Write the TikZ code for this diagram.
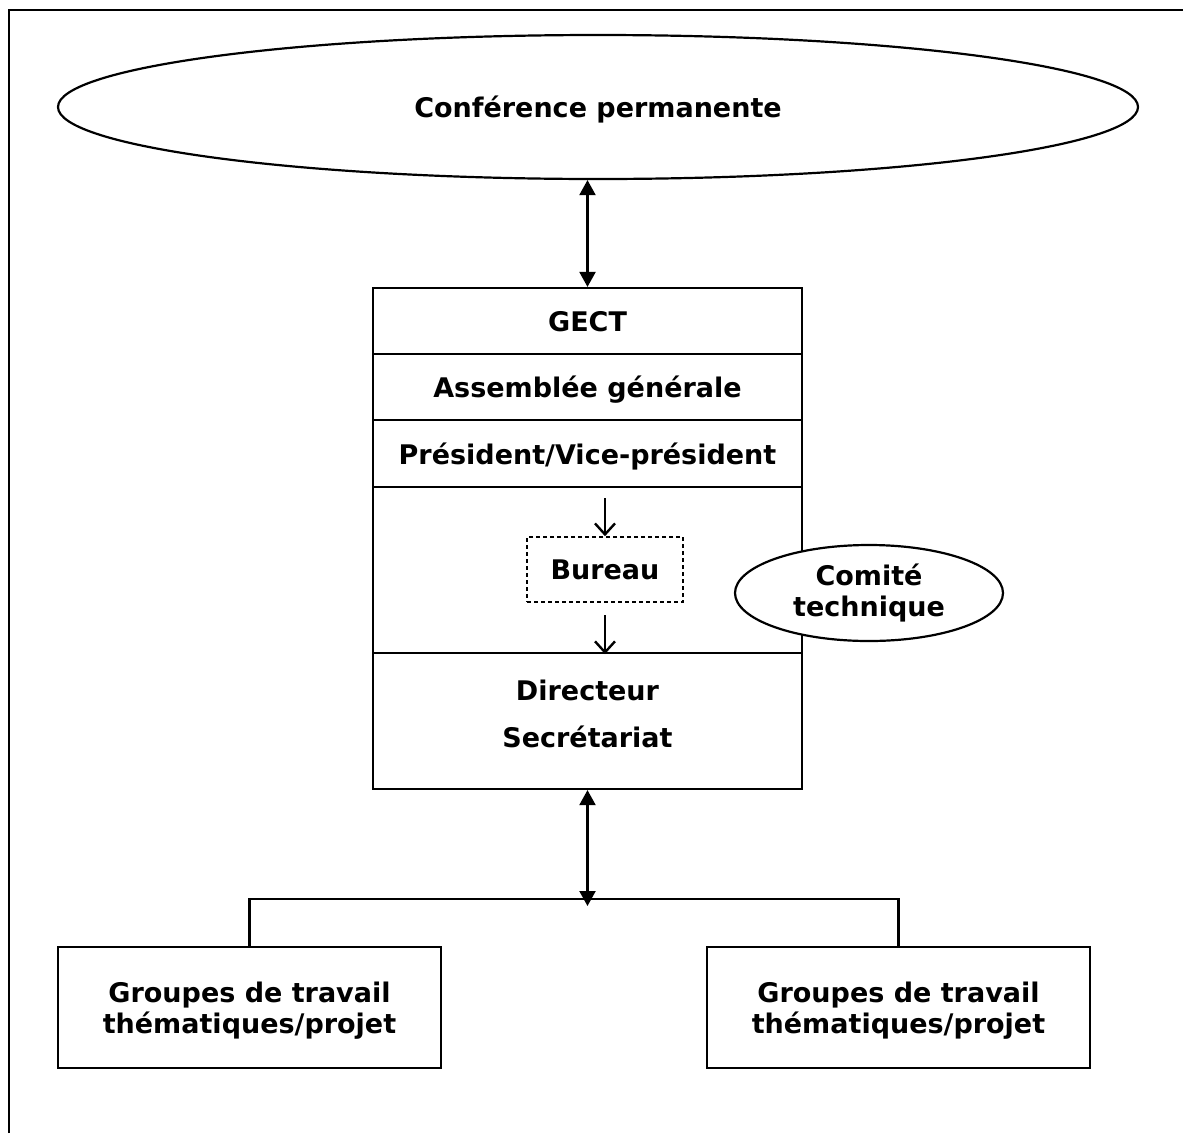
\documentclass[tikz,border=0pt]{standalone}
\usepackage{fontspec}
\setmainfont{DejaVu Sans}
\usetikzlibrary{shapes.geometric,arrows.meta}
\tikzset{
  txt/.style={font=\fontsize{27}{31}\selectfont\bfseries, align=center, inner sep=0pt},
  row/.style={draw, line width=2.2pt, minimum width=429pt, inner sep=0pt, text depth=0pt, font=\fontsize{27}{31}\selectfont\bfseries},
  grp/.style={draw, line width=2.2pt, minimum width=383pt, minimum height=121pt, inner sep=0pt, text depth=0pt, txt},
  oval/.style={ellipse, draw, line width=2.2pt, inner sep=0pt, fill=white, txt},
  tri/.style={line width=2.2pt, {Triangle[length=15pt,width=16pt]}-{Triangle[length=15pt,width=16pt]}},
  barb/.style={line width=2.4pt, -{Straight Barb[length=11pt,width=20pt]}},
  conn/.style={line width=2.2pt}
}
\begin{document}
\begin{tikzpicture}[x=1pt,y=-1pt]
\useasboundingbox (0,0) rectangle (1183,1133);
% outer frame
\draw[line width=2.2pt] (9,1133) -- (9,10) -- (1183,10);
% top ellipse
\node[oval, minimum width=1080pt, minimum height=144pt, text depth=0pt] (conf) at (598,107) {Conférence permanente};
% main column
\node[row, minimum height=66pt] (gect) at (587.5,321) {GECT};
\node[row, minimum height=66pt] (ag) at (587.5,387) {Assemblée générale};
\node[row, minimum height=67pt] (pres) at (587.5,453.5) {Président/Vice-président};
\node[row, minimum height=166pt] (mid) at (587.5,570) {};
\node[row, minimum height=136pt] (dir) at (587.5,721) {};
\node[txt] (dirt) at (587.5,690) {Directeur};
\node[txt] (sect) at (587.5,737) {Secrétariat};
% bureau
\node[draw, dashed, dash pattern=on 4pt off 3pt, line width=1.6pt, minimum width=156pt, minimum height=65pt, txt] (bureau) at (605,569.5) {Bureau};
\coordinate (b1) at (605,498);
\coordinate (b2) at (605,615);
\draw[barb] (b1) -- (bureau.north);
\draw[barb] (b2) -- (b2 |- mid.south);
% comite
\node[oval, minimum width=268pt, minimum height=96pt] (comite) at (869,593) {Comité\\technique};
% arrows
\draw[tri] (gect.north) -- (gect.north |- conf.south);
\coordinate (hub) at (587.5,906);
\draw[tri] (dir.south) -- (hub);
% groups
\node[grp] (g1) at (249.5,1007.5) {Groupes de travail\\thématiques/projet};
\node[grp] (g2) at (898.5,1007.5) {Groupes de travail\\thématiques/projet};
\draw[conn] (g1.north) -- ++(0,-47) -| (g2.north);
\end{tikzpicture}
\end{document}
